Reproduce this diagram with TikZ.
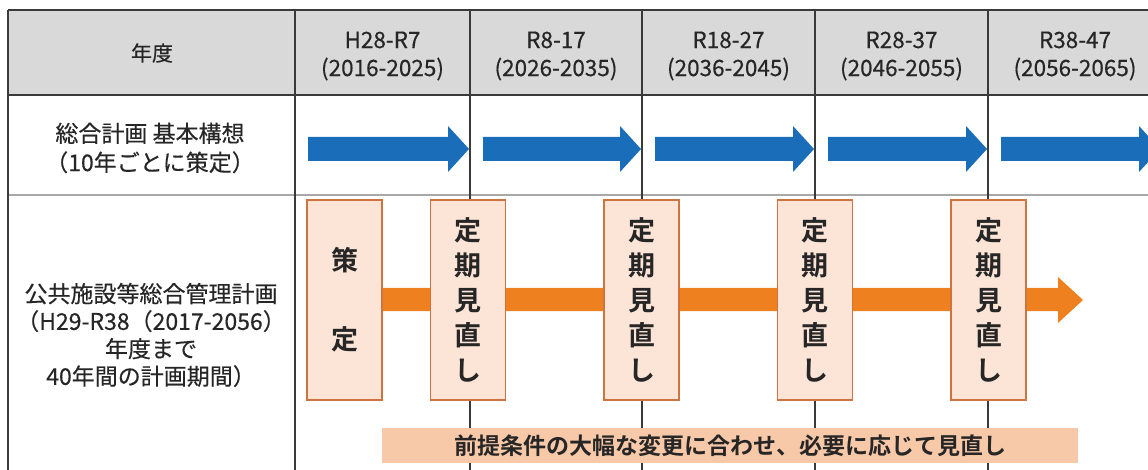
\documentclass[tikz,border=0pt]{standalone}
\usepackage{fontspec}
\setmainfont{Noto Sans CJK JP}[FakeBold=0.35]
\newfontfamily\jpb{Noto Sans CJK JP Bold}
\definecolor{hdrgray}{HTML}{D9D9D9}
\definecolor{gridc}{HTML}{3A3A3A}
\definecolor{gridl}{HTML}{A8A8A8}
\definecolor{bluec}{HTML}{1A6DB8}
\definecolor{orangec}{HTML}{EE8020}
\definecolor{boxfill}{HTML}{FCE4D6}
\definecolor{boxdraw}{HTML}{CF7440}
\definecolor{bandc}{HTML}{F8C9A9}
\definecolor{txt}{HTML}{262626}
\begin{document}
\begin{tikzpicture}[x=1pt,y=-1pt,
  hdr/.style={text=txt,align=center,font=\fontsize{22.5}{28}\selectfont,inner sep=0pt},
  lbl/.style={text=txt,align=center,font=\fontsize{23}{29}\selectfont,inner sep=0pt},
  stagebox/.style={draw=boxdraw,line width=1.8pt,fill=boxfill,minimum width=75pt,minimum height=200pt,inner sep=0pt,text=txt,align=center,font=\jpb\fontsize{27}{35}\selectfont},
  band/.style={fill=bandc,minimum width=696pt,minimum height=35pt,inner sep=0pt,text=txt,font=\jpb\fontsize{23}{24}\selectfont}]
\useasboundingbox (0,0) rectangle (1148,470);
\fill[white] (0,0) rectangle (1148,470);
% header background
\fill[hdrgray] (8,10) rectangle (1148,95);
% grid
\draw[gridl,line width=1.6pt] (8,195) -- (1148,195);
\draw[gridc,line width=1.4pt] (8,95) -- (1148,95);
\draw[gridc,line width=1.6pt] (8,10) -- (1148,10);
\draw[gridc,line width=1.4pt] (8,10) -- (8,470);
\foreach \X in {295,470,642,815,988}
  \draw[gridc,line width=1.2pt] (\X,10) -- (\X,470);
% blue arrows
\foreach \L/\R in {295/470,470/642,642/815,815/988,988/1161}
  \fill[bluec] ({\L+13},137) -- ({\R-22},137) -- ({\R-22},126) -- ({\R-1},149)
     -- ({\R-22},172) -- ({\R-22},161) -- ({\L+13},161) -- cycle;
% orange arrow
\fill[orangec] (382,288) -- (1058,288) -- (1058,277) -- (1083,300) -- (1058,323)
   -- (1058,311) -- (382,311) -- cycle;
% boxes
\node[stagebox] (sakutei) at (344.5,300) {策\\[44pt]定};
\node[stagebox] (r1) at (468,300) {定\\期\\見\\直\\し};
\node[stagebox] (r2) at (641.5,300) {定\\期\\見\\直\\し};
\node[stagebox] (r3) at (815,300) {定\\期\\見\\直\\し};
\node[stagebox] (r4) at (988.5,300) {定\\期\\見\\直\\し};
% band
\node[band] (bandn) at (730,445.5) {前提条件の大幅な変更に合わせ、必要に応じて見直し};
% header texts
\node[hdr,font=\fontsize{21}{28}\selectfont] (nendo) at (152,53) {年度};
\node[hdr] (c1) at (382.5,56) {H28-R7\\(2016-2025)};
\node[hdr] (c2) at (556,56) {R8-17\\(2026-2035)};
\node[hdr] (c3) at (728.5,56) {R18-27\\(2036-2045)};
\node[hdr] (c4) at (901.5,56) {R28-37\\(2046-2055)};
\node[hdr] (c5) at (1075,56) {R38-47\\(2056-2065)};
% row labels
\node[lbl] (row2) at (150,148) {総合計画 基本構想\\（10年ごとに策定）};
\node[lbl,font=\fontsize{23}{27.5}\selectfont] (row3) at (151,335) {公共施設等総合管理計画\\（H29-R38（2017-2056）\\年度まで\\40年間の計画期間）};
\end{tikzpicture}
\end{document}
